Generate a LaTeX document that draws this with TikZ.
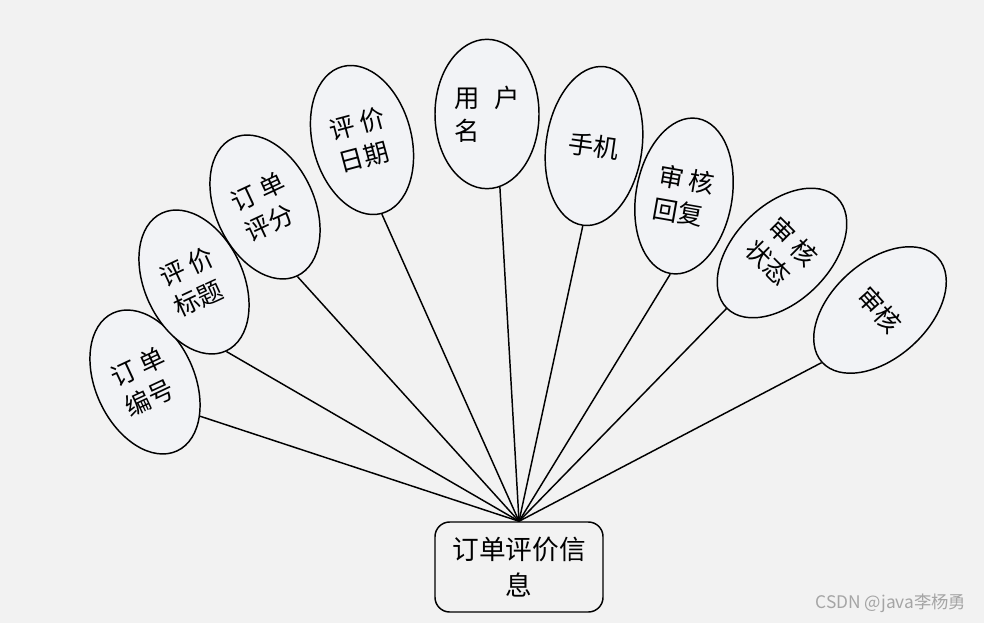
\documentclass[tikz,border=0pt]{standalone}
\usepackage{fontspec}
\setmainfont{Noto Sans CJK SC}
\usepackage{tikz}
\usetikzlibrary{shapes.geometric}
\usepackage{xcolor}
\definecolor{bgcolor}{RGB}{242,242,242}
\definecolor{attrfill}{RGB}{242,243,246}
\definecolor{markcolor}{RGB}{165,165,165}

\begin{document}
\begin{tikzpicture}[
    x=0.75pt, y=-0.75pt,
    attr/.style={draw, ellipse, line width=1.1pt, fill=attrfill, inner sep=0pt,
                 minimum width=74pt, minimum height=114pt,
                 font=\fontsize{19}{25}\selectfont, align=left},
    entity/.style={draw, rounded corners=11pt, line width=1.1pt, fill=bgcolor,
                   minimum width=126pt, minimum height=67.5pt,
                   font=\fontsize{20}{27}\selectfont, align=center},
    link/.style={line width=1.1pt}
  ]
  % background
  \fill[bgcolor] (0,0) rectangle (984,623);

  % Entity
  \node[entity] (order) at (519,567) {订单评价信\\息};

  % Attributes
  \node[attr, rotate=25] (ono) at (145,382) {订 单\\编号};
  \node[attr, rotate=25] (title) at (194,282) {评 价\\标题};
  \node[attr, rotate=25] (score) at (265,207) {订 单\\评分};
  \node[attr, rotate=15] (date) at (362,140) {评 价\\日期};
  \node[attr, minimum width=78pt, minimum height=112pt] (user) at (487,114) {用\hspace{0.6em}户\\名};
  \node[attr, rotate=-8, minimum width=72pt, minimum height=120pt] (phone) at (594,146) {手机};
  \node[attr, rotate=-10, minimum width=72pt, minimum height=118pt] (reply) at (684,196) {审 核\\回复};
  \node[attr, rotate=-45, minimum width=72pt, minimum height=117pt] (state) at (782,253) {审 核\\状态};
  \node[attr, rotate=-48, minimum width=72pt, minimum height=117pt] (audit) at (880,310) {审核};

  % Links
  \draw[link] (ono.south east) -- (order.north);
  \draw[link] (user.-80) -- (order.north);
  \foreach \a in {title, score, date, phone, reply, state, audit}
    \draw[link] (\a.south) -- (order.north);

  % Watermark
  \node[font=\fontsize{13}{15}\selectfont, text=markcolor] (mark) at (891,603) {CSDN @java李杨勇};
\end{tikzpicture}
\end{document}
